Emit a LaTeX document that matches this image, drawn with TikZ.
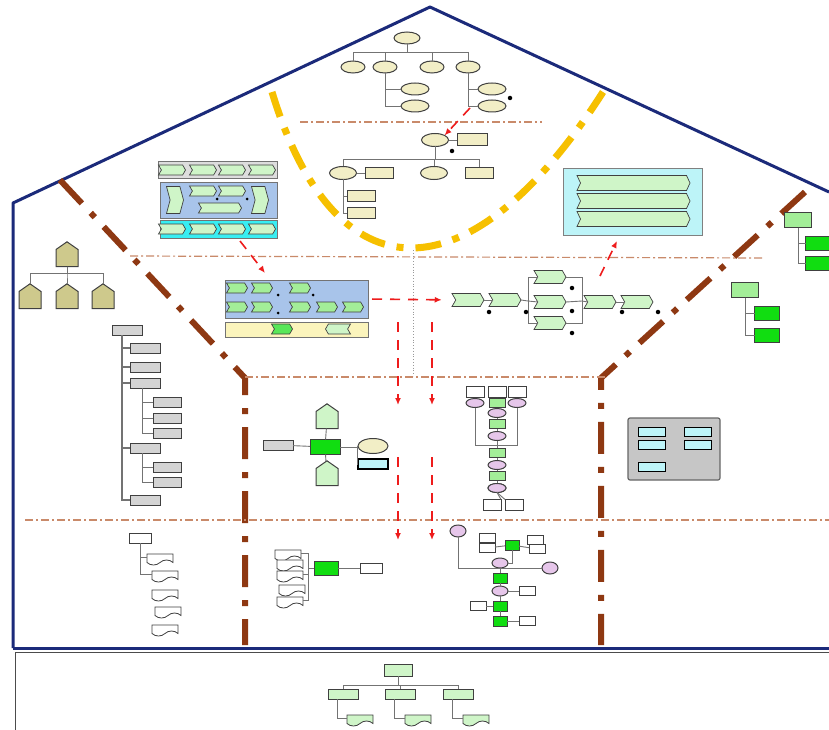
\documentclass[tikz,border=0pt]{standalone}
\usepackage{xcolor}
\usepackage{tikz}
\usetikzlibrary{arrows.meta,positioning,shapes.geometric,shapes.symbols}
\definecolor{hsnavy}{HTML}{1B2A7A}
\definecolor{hsgold}{HTML}{F6C000}
\definecolor{hsbrown}{HTML}{8E3812}
\definecolor{hsrule}{HTML}{C98A6A}
\definecolor{hsred}{HTML}{EE1C1C}
\definecolor{hsbeige}{HTML}{F2EEC6}
\definecolor{hsmint}{HTML}{CFF5C8}
\definecolor{hsgreen}{HTML}{11DD11}
\definecolor{hsleaf}{HTML}{A3EE98}
\definecolor{hsolive}{HTML}{CEC98C}
\definecolor{hsblue}{HTML}{A8C4EA}
\definecolor{hscyan}{HTML}{38EEF2}
\definecolor{hscream}{HTML}{FBF4BC}
\definecolor{hsice}{HTML}{BDF4F8}
\definecolor{hsgray}{HTML}{D4D4D4}
\definecolor{hspink}{HTML}{E6C6EA}
\definecolor{hspanel}{HTML}{C6C6C6}

\begin{document}
\begin{tikzpicture}[
  x=1pt,y=-1pt,
  every node/.style={inner sep=0pt,outer sep=0pt},
  ell/.style={ellipse,draw=black!75,fill=hsbeige,line width=1pt,minimum width=24pt,minimum height=12pt},
  tbox/.style={rectangle,draw=black!75,fill=hsbeige,line width=1pt,minimum width=28pt,minimum height=11pt},
  chev/.style={signal,signal to=east,signal from=west,signal pointer angle=120,draw=black!75,fill=hsmint,line width=.7pt,minimum width=27pt,minimum height=10pt},
  hut/.style={signal,signal to=north,signal pointer angle=110,draw=black!75,fill=hsolive,line width=1pt,minimum width=22pt,minimum height=17pt},
  doc/.style={tape,tape bend top=none,draw=black!75,fill=white,line width=.8pt,minimum width=26pt,minimum height=11pt},
  band/.style={rectangle,draw=black!55,line width=.8pt},
  link/.style={draw=black!55,line width=.9pt},
  blackdot/.style={circle,fill=black,minimum size=4.5pt},
  wall/.style={draw=hsnavy,line width=3pt,line join=round},
  goldline/.style={draw=hsgold,line width=7pt,dash pattern=on 26pt off 12pt on 7pt off 12pt},
  zoneline/.style={draw=hsbrown,line width=6pt,dash pattern=on 32pt off 13pt on 6pt off 13pt},
  guide/.style={draw=hsrule,line width=1.2pt,dash pattern=on 8pt off 3pt on 2pt off 3pt},
  flow/.style={draw=hsred,line width=1.6pt,dash pattern=on 10pt off 8pt,-{Latex[length=7pt,width=6pt]}}
]
\useasboundingbox (0,0) rectangle (829,730);
\fill[white] (0,0) rectangle (829,730);

% house and zones
\draw[wall] (13,648) -- (13,203) -- (430,7) -- (829,192);
\draw[wall] (13,648) -- (829,648);
\draw[black!70,line width=1pt] (829,652) -- (15,652) -- (15,730);
\draw[goldline] (272,92) .. controls (335,300) and (470,300) .. (603,92);
\draw[zoneline] (60,180) -- (245,378) -- (245,645);
\draw[zoneline] (805,192) -- (601,378) -- (601,645);
\draw[guide] (300,122) -- (542,122);
\draw[guide] (130,256) -- (762,258);
\draw[guide] (245,377) -- (605,377);
\draw[guide] (25,520) -- (829,520);
\draw[black!40,line width=.8pt,dotted] (413,250) -- (413,376);

% top tree
\node[ell,minimum width=26pt] (apex) at (407,38) {};
\node[ell] (t1) at (353,67) {};
\node[ell] (t2) at (385,67) {};
\node[ell] (t3) at (432,67) {};
\node[ell] (t4) at (468,67) {};
\node[ell,minimum width=28pt] (t2a) at (415,89) {};
\node[ell,minimum width=28pt] (t2b) at (415,106) {};
\node[ell,minimum width=28pt] (t4a) at (492,89) {};
\node[ell,minimum width=28pt] (t4b) at (492,106) {};
\node[blackdot] at (510,98) {};
\foreach \c in {t1,t2,t3,t4}
  \draw[link] (apex.south) -- ++(0,8) -| (\c.north);
\draw[link] (t2.south) |- (t2a.west);
\draw[link] (t2.south) |- (t2b.west);
\draw[link] (t4.south) |- (t4a.west);
\draw[link] (t4.south) |- (t4b.west);

% second tree
\node[ell,minimum width=27pt,minimum height=13pt] (hub) at (435,140) {};
\node[tbox,minimum width=30pt,minimum height=12pt] (hubnote) at (472,140) {};
\node[blackdot] at (452,151) {};
\node[ell,minimum width=27pt,minimum height=13pt] (s1) at (343,173) {};
\node[tbox] (s1note) at (379,173) {};
\node[ell,minimum width=27pt,minimum height=13pt] (s2) at (434,173) {};
\node[tbox] (s3) at (479,173) {};
\node[tbox] (s1a) at (361,196) {};
\node[tbox] (s1b) at (361,213) {};
\draw[link] (hub) -- (hubnote);
\draw[link] (s1) -- (s1note);
\foreach \c in {s1,s2,s3}
  \draw[link] (hub.south) -- ++(0,13) -| (\c.north);
\draw[link] (s1.south) |- (s1a.west);
\draw[link] (s1.south) |- (s1b.west);

% left process block
\node[band,fill=hsgray!80,minimum width=119pt,minimum height=17pt] (pbTop) at (217.5,170) {};
\node[band,fill=hsblue,minimum width=117pt,minimum height=36pt] (pbMid) at (218.5,200) {};
\node[band,fill=hscyan,minimum width=117pt,minimum height=18pt] (pbLow) at (218.5,229) {};
\foreach \x in {172,203,232,262} {
  \node[chev] at (\x,170) {};
  \node[chev] at (\x,229) {};
}
\node[chev,minimum width=17pt,minimum height=27pt,signal pointer angle=150] (pbIn) at (175,200) {};
\node[chev,minimum width=17pt,minimum height=27pt,signal pointer angle=150] (pbOut) at (260,200) {};
\node[chev] (pbA) at (203,191) {};
\node[chev] (pbB) at (232,191) {};
\node[chev,minimum width=43pt] (pbC) at (220,208) {};
\node[blackdot,minimum size=3pt] at (217,199) {};
\node[blackdot,minimum size=3pt] at (247,199) {};

% middle block
\node[band,fill=hsblue,minimum width=143pt,minimum height=38pt] (mbTop) at (296.5,299) {};
\node[band,fill=hscream,minimum width=143pt,minimum height=15pt] (mbLow) at (296.5,329.5) {};
\foreach \x in {237,262,300}
  \node[chev,minimum width=21pt,fill=hsleaf] at (\x,288) {};
\foreach \x in {237,262,300,327,353}
  \node[chev,minimum width=21pt,fill=hsleaf] at (\x,307) {};
\node[chev,minimum width=21pt,fill=hsgreen!70] (mbGo) at (282,329) {};
\node[chev,minimum width=25pt,signal to=west,signal from=east] (mbBack) at (338,329) {};
\node[blackdot,minimum size=3pt] at (278,295) {};
\node[blackdot,minimum size=3pt] at (313,295) {};
\node[blackdot,minimum size=3pt] at (278,313) {};

% process chain
\node[chev,minimum width=32pt,minimum height=13pt] (c1) at (468,300) {};
\node[chev,minimum width=32pt,minimum height=13pt] (c2) at (505,300) {};
\node[chev,minimum width=32pt,minimum height=13pt] (p1) at (550,277) {};
\node[chev,minimum width=32pt,minimum height=13pt] (p2) at (550,302) {};
\node[chev,minimum width=32pt,minimum height=13pt] (p3) at (550,323) {};
\node[chev,minimum width=32pt,minimum height=13pt] (c3) at (600,302) {};
\node[chev,minimum width=32pt,minimum height=13pt] (c4) at (637,302) {};
\coordinate (fork) at (528,301);
\coordinate (join) at (582,301);
\draw[link] (c1) -- (c2);
\draw[link] (c2.east) -- (fork);
\draw[link] (fork) |- (p1.west);
\draw[link] (fork) |- (p3.west);
\draw[link] (fork) -- (p2.west);
\draw[link] (p1.east) -| (join);
\draw[link] (p3.east) -| (join);
\draw[link] (p2.east) -- (join) -- (c3.west);
\draw[link] (c3) -- (c4);
\foreach \p in {(489,312),(526,312),(572,288),(572,311),(572,333),(622,312),(658,312)}
  \node[blackdot] at \p {};

% ice box
\node[band,fill=hsice,draw=black!50,minimum width=139pt,minimum height=67pt] (ice) at (632.5,201.5) {};
\foreach \y in {183,201,219}
  \node[chev,minimum width=113pt,minimum height=15pt,signal pointer angle=130] at (633.5,\y) {};

% olive tree
\node[hut] (ol) at (67,258) {};
\node[hut] (ol1) at (30,300) {};
\node[hut] (ol2) at (67,300) {};
\node[hut] (ol3) at (103,300) {};
\foreach \c in {ol1,ol2,ol3}
  \draw[link] (ol.south) -- ++(0,6.5) -| (\c.north);

% right green trees
\node[tbox,fill=hsleaf,minimum width=27pt,minimum height=15pt] (ra) at (798,220) {};
\node[tbox,fill=hsgreen,minimum width=25pt,minimum height=14pt] (ra1) at (818,243) {};
\node[tbox,fill=hsgreen,minimum width=25pt,minimum height=14pt] (ra2) at (818,263) {};
\draw[link] (ra.south) |- (ra1.west);
\draw[link] (ra.south) |- (ra2.west);
\node[tbox,fill=hsleaf,minimum width=27pt,minimum height=15pt] (rb) at (745,290) {};
\node[tbox,fill=hsgreen,minimum width=25pt,minimum height=14pt] (rb1) at (767,313) {};
\node[tbox,fill=hsgreen,minimum width=25pt,minimum height=14pt] (rb2) at (767,335) {};
\draw[link] (rb.south) |- (rb1.west);
\draw[link] (rb.south) |- (rb2.west);

% gray tree
\node[tbox,fill=hsgray,minimum width=30pt,minimum height=10pt] (gr) at (127,330) {};
\foreach \n/\y in {g1/348,g2/367,g3/383,g4/448,g5/500}
  \node[tbox,fill=hsgray,minimum width=30pt,minimum height=10pt] (\n) at (145,\y) {};
\foreach \n/\y in {g3a/402,g3b/418,g3c/433,g4a/467,g4b/482}
  \node[tbox,fill=hsgray,minimum width=28pt,minimum height=10pt] (\n) at (167,\y) {};
\foreach \n in {g1,g2,g3,g4,g5}
  \draw[link,line width=1.2pt] ([xshift=-5pt]gr.south) |- (\n.west);
\foreach \n in {g3a,g3b,g3c}
  \draw[link] ([xshift=-3pt]g3.south) |- (\n.west);
\foreach \n in {g4a,g4b}
  \draw[link] ([xshift=-3pt]g4.south) |- (\n.west);

% center cluster
\node[tbox,fill=hsgreen,minimum width=30pt,minimum height=15pt] (core) at (325,447) {};
\node[hut,fill=hsmint] (coreUp) at (327,420) {};
\node[hut,fill=hsmint] (coreDown) at (327,477) {};
\node[tbox,fill=hsgray,minimum width=30pt,minimum height=10pt] (coreIn) at (278,445) {};
\node[ell,minimum width=30pt,minimum height=15pt] (coreEll) at (373,446) {};
\node[tbox,fill=hsice,draw=black,line width=1.2pt,minimum width=30pt,minimum height=10pt] (coreOut) at (373,464) {};
\coordinate (coreFork) at (357,447);
\draw[link] (core) -- (coreUp);
\draw[link] (core) -- (coreDown);
\draw[link] (coreIn) -- (core);
\draw[link] (core.east) -- (coreFork);
\draw[link] (coreFork) |- (coreEll.west);
\draw[link] (coreFork) |- (coreOut.west);

% vertical chain
\coordinate (chainJoin) at (497,445);
\node[tbox,fill=white,minimum width=18pt,minimum height=11pt] (vw1) at (475,392) {};
\node[tbox,fill=white,minimum width=18pt,minimum height=11pt] (vw2) at (497,392) {};
\node[tbox,fill=white,minimum width=18pt,minimum height=11pt] (vw3) at (517,392) {};
\node[ell,fill=hspink,minimum width=18pt,minimum height=9pt] (vl) at (475,403) {};
\node[ell,fill=hspink,minimum width=18pt,minimum height=9pt] (vr) at (517,403) {};
\node[ell,fill=hspink,minimum width=18pt,minimum height=9pt] (v8) at (497,488) {};
\draw[link] (vw2) -- (v8);
\foreach \n/\y in {v1/403,v3/424,v5/453,v7/476}
  \node[tbox,fill=hsleaf,minimum width=16pt,minimum height=9pt] (\n) at (497,\y) {};
\foreach \n/\y in {v2/413,v4/436,v6/465}
  \node[ell,fill=hspink,minimum width=18pt,minimum height=9pt] (\n) at (497,\y) {};
\node[ell,fill=hspink,minimum width=18pt,minimum height=9pt] at (497,488) {};
\node[tbox,fill=white,minimum width=18pt,minimum height=11pt] (vb1) at (492,505) {};
\node[tbox,fill=white,minimum width=18pt,minimum height=11pt] (vb2) at (514,505) {};
\draw[link] (vl.south) |- (chainJoin);
\draw[link] (vr.south) |- (chainJoin);
\draw[link] (v8.south) -- (vb1.north east);
\draw[link] (v8.south) -- (vb2.north west);

% gray panel
\node[band,fill=hspanel,draw=black!60,line width=1.2pt,rounded corners=2pt,minimum width=92pt,minimum height=62pt] (panel) at (674,449) {};
\foreach \p in {(652,432),(698,432),(652,445),(698,445),(652,467)}
  \node[tbox,fill=hsice,draw=black,line width=1pt,minimum width=27pt,minimum height=9pt] at \p {};

% bottom left
\node[tbox,fill=white,minimum width=22pt,minimum height=10pt] (bl0) at (140,538) {};
\node[doc] (bl1) at (160,557) {};
\node[doc] (bl2) at (165,574) {};
\node[doc] (bl3) at (165,593) {};
\node[doc] (bl4) at (168,610) {};
\node[doc] (bl5) at (165,628) {};
\draw[link] (bl0.south) |- (bl1.west);
\draw[link] (bl0.south) |- (bl2.west);

% bottom mid-left
\foreach \n/\x/\y in {dm1/288/553,dm2/290/563,dm3/290/574,dm4/292/588,dm5/290/600}
  \node[doc] (\n) at (\x,\y) {};
\node[tbox,fill=hsgreen,minimum width=24pt,minimum height=14pt] (dmCore) at (326,568) {};
\node[tbox,fill=white,minimum width=22pt,minimum height=10pt] (dmOut) at (371,568) {};
\coordinate (dmFork) at (308,568);
\foreach \n in {dm1,dm3,dm5}
  \draw[link] (dmFork) |- (\n.east);
\draw[link] (dmFork) -- (dmCore);
\draw[link] (dmCore) -- (dmOut);

% bottom center-right
\node[ell,fill=hspink,minimum width=16pt,minimum height=12pt] (pk1) at (458,531) {};
\node[ell,fill=hspink,minimum width=16pt,minimum height=12pt] (pk2) at (550,568) {};
\node[tbox,fill=white,minimum width=16pt,minimum height=9pt] (bw1) at (487,538) {};
\node[tbox,fill=white,minimum width=16pt,minimum height=9pt] (bw2) at (487,548) {};
\node[tbox,fill=hsgreen,minimum width=14pt,minimum height=10pt] (bg0) at (512,545) {};
\node[tbox,fill=white,minimum width=16pt,minimum height=9pt] (bw3) at (535,540) {};
\node[tbox,fill=white,minimum width=16pt,minimum height=9pt] (bw4) at (537,549) {};
\node[ell,fill=hspink,minimum width=16pt,minimum height=10pt] (col1) at (500,563) {};
\node[tbox,fill=hsgreen,minimum width=14pt,minimum height=10pt] (col2) at (500,578) {};
\node[ell,fill=hspink,minimum width=16pt,minimum height=10pt] (col3) at (500,591) {};
\node[tbox,fill=hsgreen,minimum width=14pt,minimum height=10pt] (col4) at (500,606) {};
\node[tbox,fill=hsgreen,minimum width=14pt,minimum height=10pt] (col5) at (500,621) {};
\node[tbox,fill=white,minimum width=16pt,minimum height=9pt] (cs1) at (527,591) {};
\node[tbox,fill=white,minimum width=16pt,minimum height=9pt] (cs2) at (478,606) {};
\node[tbox,fill=white,minimum width=16pt,minimum height=9pt] (cs3) at (527,621) {};
\draw[link] (pk1.south) |- (pk2.west);
\draw[link] (bw2) -- (bg0);
\draw[link] (bg0) -- (bw4);
\draw[link] (bg0.south) |- (col1.east);
\draw[link] (col1) -- (col2) -- (col3) -- (col4) -- (col5);
\draw[link] (col3) -- (cs1);
\draw[link] (col4) -- (cs2);
\draw[link] (col5) -- (cs3);

% base tree
\node[tbox,fill=hsmint,minimum width=28pt,minimum height=12pt] (base) at (398,670) {};
\node[tbox,fill=hsmint,minimum width=30pt,minimum height=10pt] (bs1) at (343,694) {};
\node[tbox,fill=hsmint,minimum width=30pt,minimum height=10pt] (bs2) at (400,694) {};
\node[tbox,fill=hsmint,minimum width=30pt,minimum height=10pt] (bs3) at (458,694) {};
\node[doc,fill=hsmint] (bd1) at (360,718) {};
\node[doc,fill=hsmint] (bd2) at (418,718) {};
\node[doc,fill=hsmint] (bd3) at (476,718) {};
\foreach \c in {bs1,bs2,bs3}
  \draw[link] (base.south) -- ++(0,9) -| (\c.north);
\draw[link] ([xshift=-6pt]bs1.south) |- (bd1.west);
\draw[link] ([xshift=-6pt]bs2.south) |- (bd2.west);
\draw[link] ([xshift=-6pt]bs3.south) |- (bd3.west);

% red flows
\coordinate (topIn) at (470,108);
\coordinate (pbExit) at (240,241);
\coordinate (mbEntry) at (265,273);
\coordinate (upFrom) at (600,276);
\coordinate (iceIn) at (617,241);
\coordinate (dnA1) at (398,322);
\coordinate (dnA2) at (398,405);
\coordinate (dnB1) at (432,322);
\coordinate (dnB2) at (432,405);
\coordinate (dnA3) at (398,457);
\coordinate (dnA4) at (398,540);
\coordinate (dnB3) at (432,457);
\coordinate (dnB4) at (432,540);
\draw[flow] (topIn) -- (hub.north east);
\draw[flow] (pbExit) -- (mbEntry);
\draw[flow,shorten <=4pt,shorten >=14pt] (mbTop.east) -- (c1.west);
\draw[flow] (upFrom) -- (iceIn);
\draw[flow] (dnA1) -- (dnA2);
\draw[flow] (dnB1) -- (dnB2);
\draw[flow] (dnA3) -- (dnA4);
\draw[flow] (dnB3) -- (dnB4);
\end{tikzpicture}
\end{document}
